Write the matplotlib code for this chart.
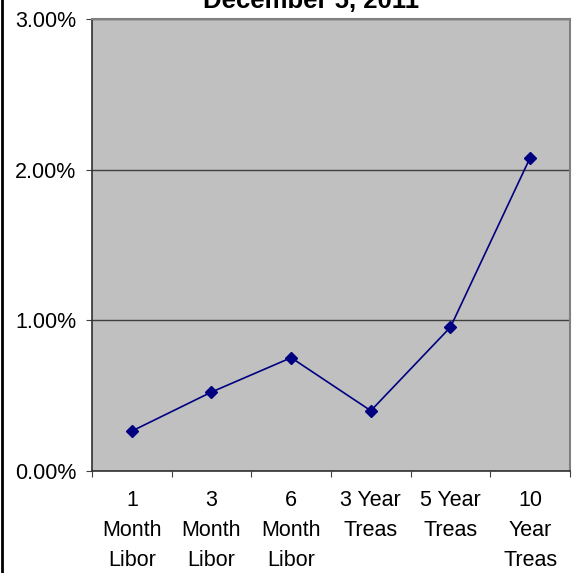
import numpy as np
import matplotlib.pyplot as plt
from matplotlib.ticker import FuncFormatter
from matplotlib.lines import Line2D

plt.rcParams['font.family'] = ['Liberation Sans', 'DejaVu Sans']

# data
labels = ['1\nMonth\nLibor', '3\nMonth\nLibor', '6\nMonth\nLibor',
          '3 Year\nTreas', '5 Year\nTreas', '10\nYear\nTreas']
rates = [0.265, 0.524, 0.752, 0.400, 0.955, 2.08]  # percent

fig = plt.figure(figsize=(5.8, 5.73), dpi=100)
ax = fig.add_axes([92/580, 1-471/573, (570-92)/580, (471-19)/573])
ax.set_facecolor('#C0C0C0')

x = np.arange(len(rates))
ax.plot(x, rates, '-', color='#000080', lw=1.2, marker='D', ms=6,
        mfc='#000080', mec='#000080', zorder=3)

ax.set_xlim(-0.5, len(rates)-0.5)
ax.set_ylim(0, 3)
ax.set_yticks([0, 1, 2, 3])
ax.yaxis.set_major_formatter(FuncFormatter(lambda v, p: '%.2f%%' % v))
ax.grid(axis='y', color='#404040', lw=1)
ax.set_axisbelow(True)

# category boundary ticks, labels centred
ax.set_xticks(np.arange(-0.5, len(rates)), minor=False)
ax.set_xticklabels([])
ax.set_xticks(x, minor=True)
ax.set_xticklabels(labels, minor=True, fontsize=15.5, linespacing=1.55, va='top')
ax.tick_params(axis='x', which='minor', length=0, pad=14)
ax.tick_params(axis='x', which='major', direction='out', length=4, color='#404040')
ax.tick_params(axis='y', direction='out', length=4, labelsize=15.5, pad=7.5, color='#404040')

for s in ['top', 'right']:
    ax.spines[s].set_color('#808080')
    ax.spines[s].set_linewidth(1.5)
for s in ['left', 'bottom']:
    ax.spines[s].set_color('#303030')
    ax.spines[s].set_linewidth(1.2)

fig.text(311/580, 1-8/573, 'December 5, 2011', ha='center', va='baseline',
         fontsize=18.5, fontweight='bold')

# left frame line
fig.add_artist(Line2D([2/580, 2/580], [0, 1], color='black', lw=2,
                      transform=fig.transFigure))

fig.savefig('out.png', dpi=100)
